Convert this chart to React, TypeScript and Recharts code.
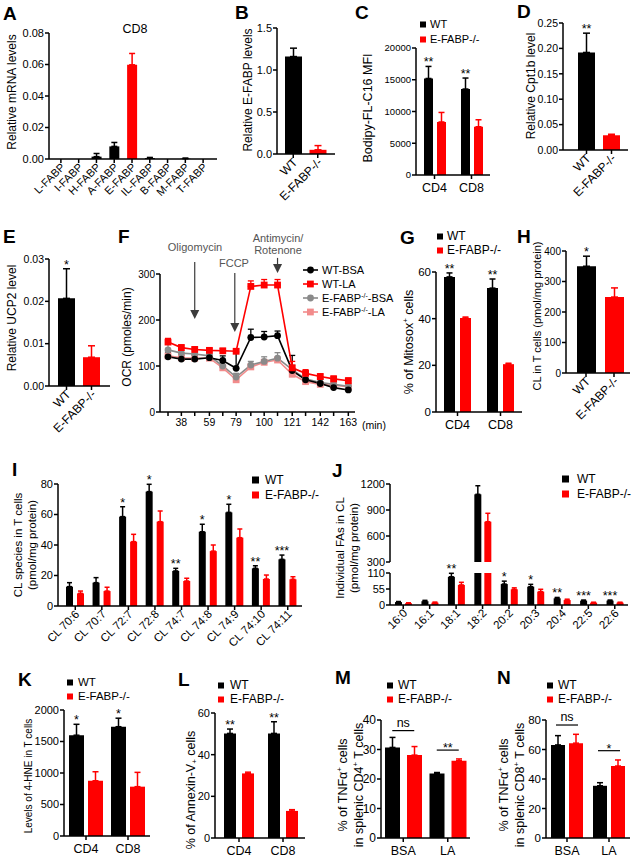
import React from 'react'
import { Bar, BarChart, Cell, ErrorBar, LabelList, Line, LineChart, ReferenceLine, XAxis, YAxis } from 'recharts'

const FONT = '"Liberation Sans", Arial, Helvetica, sans-serif'
const K = '#000000'
const R = '#ff0000'
const GRAY = '#8a8a8a'
const PINK = '#f28b8b'

const GENO = ['WT', 'E-FABP-/-']
const GENO_COLORS = [K, R]
const CD = ['CD4', 'CD8']
const TREAT = ['BSA', 'LA']

// A: FABP mRNA in CD8
const aCats = ['L-FABP', 'I-FABP', 'H-FABP', 'A-FABP', 'E-FABP', 'IL-FABP', 'B-FABP', 'M-FABP', 'T-FABP']
const aVals = [0, 0, 0.0015, 0.008, 0.0598, 0.0006, 0, 0.0002, 0]
const aErrs = [0, 0, 0.002, 0.0025, 0.0072, 0.0004, 0, 0.0004, 0]
const aColors = [K, K, K, K, R, K, K, K, K]

// B: E-FABP levels
const bVals = [1.16, 0.05]
const bErrs = [0.1, 0.05]

// C: Bodipy-FL-C16 MFI
const cWT = [15200, 13540]
const cWTErr = [1900, 1730]
const cKO = [8350, 7600]
const cKOErr = [1500, 1100]
const cStars = ['**', '**']

// D: Cpt1b
const dVals = [0.192, 0.029]
const dErrs = [0.038, 0.002]
const dStars = ['**', '']

// E: UCP2
const eVals = [0.0207, 0.0068]
const eErrs = [0.007, 0.0027]
const eStars = ['*', '']

// F: OCR time course
const fTimes = [28, 38, 48, 59, 69, 79, 90, 100, 110, 121, 131, 142, 152, 163]
const fLabeled = [38, 59, 79, 100, 121, 142, 163]
const fWtBsa = [120, 115, 115, 118, 112, 95, 162, 163, 166, 90, 70, 62, 53, 48]
const fWtBsaErr = [10, 8, 8, 8, 10, 35, 18, 12, 10, 33, 15, 10, 8, 8]
const fWtLa = [152, 140, 136, 134, 133, 132, 273, 276, 276, 96, 84, 77, 72, 68]
const fWtLaErr = [8, 6, 5, 4, 5, 5, 12, 12, 12, 14, 8, 6, 6, 6]
const fKoBsa = [135, 128, 126, 122, 100, 76, 102, 110, 117, 92, 72, 64, 60, 56]
const fKoBsaErr = [12, 10, 8, 8, 8, 8, 8, 10, 12, 10, 10, 8, 8, 8]
const fKoLa = [122, 118, 117, 117, 96, 70, 98, 108, 113, 82, 66, 60, 58, 55]
const fKoLaErr = [6, 6, 6, 6, 6, 6, 6, 6, 6, 6, 6, 6, 6, 6]
const fArrows = [
  { t: 48, from: 326, to: 202 },
  { t: 78, from: 302, to: 174 },
  { t: 110, from: 335, to: 302 },
]

// G: Mitosox
const gWT = [57.9, 53.1]
const gWTErr = [1.7, 3.9]
const gKO = [40.3, 20.5]
const gKOErr = [0.4, 0.4]
const gStars = ['**', '**']

// H: CL in T cells
const hVals = [350, 249]
const hErrs = [33, 30]
const hStars = ['*', '']

// I: CL species
const iCats = ['CL 70:6', 'CL 70:7', 'CL 72:7', 'CL 72:8', 'CL 74:7', 'CL 74:8', 'CL 74:9', 'CL 74:10', 'CL 74:11']
const iWT = [12.7, 15.3, 58.6, 75, 23, 48.7, 61.4, 24.7, 30.6]
const iWTErr = [2.6, 3.3, 6.5, 4.8, 1.7, 4.9, 5.3, 1.7, 2.8]
const iKO = [8.3, 9.8, 42.2, 55.3, 16.4, 36, 44.8, 17.7, 17.5]
const iKOErr = [1.5, 2.5, 4.8, 7, 1.8, 4, 5.7, 2.6, 1.7]
const iStars = ['', '', '*', '*', '**', '*', '*', '**', '***']

// J: individual FAs in CL (broken axis)
const jCats = ['16:0', '16:1', '18:1', '18:2', '20:2', '20:3', '20:4', '22:5', '22:6']
const jWT = [10, 13, 97, 1081, 72, 63, 23, 15, 15]
const jWTErr = [2, 3, 12, 99, 10, 8, 3, 2, 2]
const jKO = [6, 8, 69, 765, 54, 46, 17, 8, 8]
const jKOErr = [1.5, 2, 9, 97, 5, 8, 3, 1.5, 1.5]
const jStars = ['', '', '**', '*', '*', '*', '**', '***', '***']
const J_BREAK = 110

// K: 4-HNE
const kWT = [1600, 1735]
const kWTErr = [173, 135]
const kKO = [877, 783]
const kKOErr = [143, 227]
const kStars = ['*', '*']

// L: Annexin-V
const lWT = [50.2, 50.2]
const lWTErr = [2.1, 5.6]
const lKO = [31, 13]
const lKOErr = [0.6, 0.6]
const lStars = ['**', '**']

// M: TNFa CD4
const mWT = [30.7, 21.9]
const mWTErr = [3.4, 0.3]
const mKO = [28.1, 26.2]
const mKOErr = [2.9, 0.6]
const mSig = [
  { cat: 'BSA', y: 36.4, text: 'ns' },
  { cat: 'LA', y: 29.8, text: '**' },
]

// N: TNFa CD8
const nWT = [63.1, 35.4]
const nWTErr = [6.3, 2.1]
const nKO = [64.3, 48.8]
const nKOErr = [6, 4.1]
const nSig = [
  { cat: 'BSA', y: 76.6, text: 'ns' },
  { cat: 'LA', y: 59.2, text: '*' },
]

type Series = { vals: (number | null)[]; errs: (number | null)[]; color: string | string[]; stars?: string[] }

type PanelProps = {
  ax: number
  end: number
  top: number
  bot: number
  xh?: number
  yw?: number
  mt?: number
  cats: string[]
  series: Series[]
  domain: [number, number]
  ticks: number[]
  fmt?: (v: number) => string
  fs: number
  xfs?: number
  rotate?: boolean
  pad?: { left: number; right: number }
  barSize: number
  barGap?: number
  cap?: number
  hideX?: boolean
  overflow?: boolean
  children?: React.ReactNode
}

const axisStyle = { stroke: K, strokeWidth: 1.5 }

const rotTick = (fs: number) => (t: any) => (
  <text
    x={t.x + 2}
    y={t.y}
    dy="0.35em"
    textAnchor="end"
    fontSize={fs}
    fill={K}
    transform={`rotate(-45 ${t.x + 2} ${t.y})`}
  >
    {t.payload.value}
  </text>
)

// asterisks sit just above the error bar of the bar
const starLabel = (s: Series, base: number, fs = 12.5) => (props: any) => {
  const i = props.index
  const txt = s.stars?.[i]
  const v = s.vals[i]
  if (!txt || v == null) return null
  const vb = props.viewBox ?? props
  const h = Math.abs(vb.height)
  const yTop = Math.min(vb.y, vb.y + vb.height)
  const ppu = h / (v - base)
  const e = s.errs[i] ?? 0
  return (
    <text key={`st${i}`} x={vb.x + vb.width / 2} y={yTop - e * ppu} textAnchor="middle" fontSize={fs} fill={K}>
      {txt}
    </text>
  )
}

const sigShape = (text: string, half = 11, fs = 12.5) => (p: any) => {
  const star = text.includes('*')
  return (
    <g>
      <line x1={p.x1 - half} x2={p.x1 + half} y1={p.y1} y2={p.y1} stroke={K} strokeWidth={1.2} />
      <text x={p.x1} y={star ? p.y1 + 2 : p.y1 - 4} textAnchor="middle" fontSize={fs} fill={K}>
        {text}
      </text>
    </g>
  )
}

const arrowShape = (p: any) => {
  const x = p.x1
  const ya = Math.min(p.y1, p.y2)
  const yb = Math.max(p.y1, p.y2)
  return (
    <g>
      <line x1={x} x2={x} y1={ya} y2={yb - 7} stroke="#3c3c3c" strokeWidth={1.2} />
      <polygon points={`${x - 4.5},${yb - 9} ${x + 4.5},${yb - 9} ${x},${yb}`} fill="#3c3c3c" />
    </g>
  )
}

function BarPanel(p: PanelProps) {
  const yw = p.yw ?? 40
  const mt = p.mt ?? 14
  const mb = p.hideX ? 7 : 0
  const xh = p.hideX ? 0 : p.xh ?? 22
  const xfs = p.xfs ?? 12.5
  const cap = p.cap ?? 3
  const left = p.ax - yw
  const top = p.top - mt
  const base = p.domain[0] > 0 ? p.domain[0] : 0
  const cols = p.series.map((s) => p.cats.map((_, i) => (Array.isArray(s.color) ? s.color[i] : s.color)))
  const uniq = cols.map((c) => Array.from(new Set(c)))
  const data = p.cats.map((c, i) => {
    const row: Record<string, unknown> = { c }
    p.series.forEach((s, k) => {
      row[`s${k}`] = s.vals[i]
      uniq[k].forEach((col, u) => {
        const e = s.errs[i]
        row[`e${k}_${u}`] = col === cols[k][i] && e ? [0, e] : null
      })
    })
    return row
  })
  return (
    <div style={{ position: 'absolute', left, top }}>
      <BarChart
        width={p.end - left + 3}
        height={p.bot - top + xh + mb}
        data={data}
        margin={{ top: mt, right: 3, left: 0, bottom: mb }}
        barSize={p.barSize}
        barGap={p.barGap ?? 4}
      >
        <XAxis
          dataKey="c"
          hide={p.hideX}
          height={xh || 1}
          interval={0}
          padding={p.pad ?? { left: 0, right: 0 }}
          axisLine={axisStyle}
          tickLine={axisStyle}
          tickSize={4}
          tickMargin={p.rotate ? 2 : 4}
          tick={p.rotate ? rotTick(xfs) : { fontSize: xfs, fill: K }}
        />
        <YAxis
          width={yw}
          type="number"
          domain={p.domain}
          ticks={p.ticks}
          interval={0}
          allowDataOverflow={!!p.overflow}
          tickFormatter={p.fmt ?? ((v: number) => String(v))}
          axisLine={axisStyle}
          tickLine={axisStyle}
          tickSize={4}
          tickMargin={1}
          tick={{ fontSize: p.fs, fill: K }}
        />
        {p.series.map((s, k) => (
          <Bar key={k} dataKey={`s${k}`} fill={cols[k][0]} isAnimationActive={false}>
            {cols[k].map((col, i) => (
              <Cell key={i} fill={col} />
            ))}
            {uniq[k].map((col, u) => (
              <ErrorBar key={u} dataKey={`e${k}_${u}`} direction="y" width={cap} strokeWidth={1.5} stroke={col} />
            ))}
            {s.stars ? <LabelList dataKey={`s${k}`} content={starLabel(s, base)} /> : null}
          </Bar>
        ))}
        {p.children}
      </BarChart>
    </div>
  )
}

const ciDot = (color: string) => (p: any) => <circle key={`d${p.index}`} cx={p.cx} cy={p.cy} r={3.4} fill={color} />
const sqDot = (color: string) => (p: any) => (
  <rect key={`d${p.index}`} x={p.cx - 3.4} y={p.cy - 3.4} width={6.8} height={6.8} fill={color} />
)

function OcrPanel() {
  const ax = 160
  const end = 355
  const top = 274
  const bot = 412
  const mt = 18
  const yw = 40
  const xh = 22
  const left = ax - yw
  const t0 = top - mt
  const data = fTimes.map((t, i) => ({
    t,
    wb: fWtBsa[i],
    wbE: [0, fWtBsaErr[i]],
    wl: fWtLa[i],
    wlE: [0, fWtLaErr[i]],
    kb: fKoBsa[i],
    kbE: [0, fKoBsaErr[i]],
    kl: fKoLa[i],
    klE: [0, fKoLaErr[i]],
  }))
  const lines = [
    { key: 'kl', color: PINK, sq: true },
    { key: 'kb', color: GRAY, sq: false },
    { key: 'wb', color: K, sq: false },
    { key: 'wl', color: R, sq: true },
  ]
  return (
    <div style={{ position: 'absolute', left, top: t0 }}>
      <LineChart width={end - left + 3} height={bot - t0 + xh} data={data} margin={{ top: mt, right: 3, left: 0, bottom: 0 }}>
        <XAxis
          type="number"
          dataKey="t"
          domain={[22, 168]}
          ticks={fTimes}
          interval={0}
          tickFormatter={(v: number) => (fLabeled.includes(v) ? String(v) : '')}
          height={xh}
          axisLine={axisStyle}
          tickLine={axisStyle}
          tickSize={4}
          tickMargin={3}
          tick={{ fontSize: 10.5, fill: K }}
        />
        <YAxis
          width={yw}
          type="number"
          domain={[0, 300]}
          ticks={[0, 100, 200, 300]}
          interval={0}
          axisLine={axisStyle}
          tickLine={axisStyle}
          tickSize={4}
          tickMargin={1}
          tick={{ fontSize: 10, fill: K }}
        />
        {fArrows.map((a, i) => (
          <ReferenceLine
            key={i}
            segment={[
              { x: a.t, y: a.from },
              { x: a.t, y: a.to },
            ]}
            ifOverflow="visible"
            shape={arrowShape}
          />
        ))}
        {lines.map((l) => (
          <Line
            key={l.key}
            dataKey={l.key}
            stroke={l.color}
            strokeWidth={1.6}
            isAnimationActive={false}
            dot={l.sq ? sqDot(l.color) : ciDot(l.color)}
            activeDot={false}
          >
            <ErrorBar dataKey={`${l.key}E`} direction="y" width={3} strokeWidth={1.3} stroke={l.color} />
          </Line>
        ))}
      </LineChart>
    </div>
  )
}

function VText({ x, y, fs, children }: { x: number; y: number; fs: number; children: React.ReactNode }) {
  return (
    <text transform={`translate(${x} ${y}) rotate(-90)`} textAnchor="middle" dominantBaseline="central" fontSize={fs} fill={K}>
      {children}
    </text>
  )
}

function GenoLegend({ x, y1, y2, tx, fs = 12, sq = 6 }: { x: number; y1: number; y2: number; tx: number; fs?: number; sq?: number }) {
  return (
    <g>
      {[y1, y2].map((y, i) => (
        <g key={i}>
          <rect x={x} y={y - sq - 0.5} width={sq} height={sq} fill={GENO_COLORS[i]} />
          <text x={tx} y={y} fontSize={fs} fill={K}>
            {GENO[i]}
          </text>
        </g>
      ))}
    </g>
  )
}

const letters: [string, number, number][] = [
  ['A', 3, 20],
  ['B', 235, 19],
  ['C', 355, 19],
  ['D', 517, 18],
  ['E', 3, 243],
  ['F', 118, 243],
  ['G', 400, 244],
  ['H', 517, 243],
  ['I', 12, 476],
  ['J', 332, 477],
  ['K', 18, 686],
  ['L', 178, 686],
  ['M', 335, 684],
  ['N', 497, 684],
]

const fLegend = [
  { label: 'WT-BSA', color: K, sq: false, ko: false },
  { label: '-LA', color: R, sq: true, ko: false },
  { label: '-BSA', color: GRAY, sq: false, ko: true },
  { label: '-LA', color: PINK, sq: true, ko: true },
]

export default function App() {
  const f2 = (v: number) => v.toFixed(2)
  const f1 = (v: number) => v.toFixed(1)
  return (
    <div
      style={{ position: 'absolute', left: 0, top: 0, width: 633, height: 860, background: '#fff', fontFamily: FONT, overflow: 'hidden' }}
    >
      {/* A */}
      <BarPanel
        ax={49}
        end={217}
        top={33}
        bot={159}
        xh={50}
        cats={aCats}
        series={[{ vals: aVals, errs: aErrs, color: aColors }]}
        domain={[0, 0.08]}
        ticks={[0, 0.02, 0.04, 0.06, 0.08]}
        fmt={f2}
        fs={11}
        xfs={11}
        rotate
        pad={{ left: 3, right: 5 }}
        barSize={10}
      />
      {/* B */}
      <BarPanel
        ax={277}
        end={335}
        top={28}
        bot={154}
        xh={55}
        cats={GENO}
        series={[{ vals: bVals, errs: bErrs, color: GENO_COLORS }]}
        domain={[0, 1.5]}
        ticks={[0, 0.5, 1, 1.5]}
        fmt={f1}
        fs={11}
        xfs={12}
        rotate
        pad={{ left: 4, right: 5 }}
        barSize={17}
        cap={3.5}
      />
      {/* C */}
      <BarPanel
        ax={416}
        end={490}
        top={48}
        bot={175}
        cats={CD}
        series={[
          { vals: cWT, errs: cWTErr, color: K, stars: cStars },
          { vals: cKO, errs: cKOErr, color: R },
        ]}
        domain={[0, 20000]}
        ticks={[0, 5000, 10000, 15000, 20000]}
        fs={9.5}
        barSize={9}
        barGap={4}
      />
      {/* D */}
      <BarPanel
        ax={563}
        end={628}
        top={23}
        bot={150}
        xh={55}
        cats={GENO}
        series={[{ vals: dVals, errs: dErrs, color: GENO_COLORS, stars: dStars }]}
        domain={[0, 0.25]}
        ticks={[0, 0.05, 0.1, 0.15, 0.2, 0.25]}
        fmt={f2}
        fs={10.5}
        xfs={12}
        rotate
        pad={{ left: 11, right: 4 }}
        barSize={17}
        cap={3.5}
      />
      {/* E */}
      <BarPanel
        ax={49}
        end={110}
        top={259}
        bot={386}
        xh={55}
        cats={GENO}
        series={[{ vals: eVals, errs: eErrs, color: GENO_COLORS, stars: eStars }]}
        domain={[0, 0.03]}
        ticks={[0, 0.01, 0.02, 0.03]}
        fmt={f2}
        fs={10.5}
        xfs={12}
        rotate
        pad={{ left: 5, right: 6 }}
        barSize={17}
        cap={3.5}
      />
      {/* F */}
      <OcrPanel />
      {/* G */}
      <BarPanel
        ax={436}
        end={522}
        top={272}
        bot={412}
        cats={CD}
        series={[
          { vals: gWT, errs: gWTErr, color: K, stars: gStars },
          { vals: gKO, errs: gKOErr, color: R },
        ]}
        domain={[0, 60]}
        ticks={[0, 20, 40, 60]}
        fs={11.5}
        barSize={11}
        barGap={5}
      />
      {/* H */}
      <BarPanel
        ax={566}
        end={630}
        top={251}
        bot={373}
        xh={55}
        cats={GENO}
        series={[{ vals: hVals, errs: hErrs, color: GENO_COLORS, stars: hStars }]}
        domain={[0, 400]}
        ticks={[0, 100, 200, 300, 400]}
        fs={10}
        xfs={12}
        rotate
        pad={{ left: 6, right: 2 }}
        barSize={19}
        cap={3.5}
      />
      {/* I */}
      <BarPanel
        ax={58}
        end={302}
        top={484}
        bot={606}
        xh={48}
        cats={iCats}
        series={[
          { vals: iWT, errs: iWTErr, color: K, stars: iStars },
          { vals: iKO, errs: iKOErr, color: R },
        ]}
        domain={[0, 80]}
        ticks={[0, 20, 40, 60, 80]}
        fs={11}
        xfs={11.5}
        rotate
        pad={{ left: 4, right: 1 }}
        barSize={7}
        barGap={4}
        cap={2.5}
      />
      {/* J top segment */}
      <BarPanel
        ax={390}
        end={628}
        top={484}
        bot={562}
        hideX
        cats={jCats}
        series={[
          {
            vals: jWT.map((v) => (v > J_BREAK ? v : null)),
            errs: jWTErr,
            color: K,
            stars: jStars.map((s, i) => (jWT[i] > J_BREAK ? s : '')),
          },
          { vals: jKO.map((v) => (v > J_BREAK ? v : null)), errs: jKOErr, color: R },
        ]}
        domain={[300, 1200]}
        ticks={[300, 600, 900, 1200]}
        fs={11}
        barSize={7}
        barGap={3}
        cap={2.5}
      />
      {/* J bottom segment */}
      <BarPanel
        ax={390}
        end={628}
        top={573}
        bot={605}
        mt={10}
        xh={48}
        cats={jCats}
        series={[
          {
            vals: jWT,
            errs: jWTErr.map((e, i) => (jWT[i] > J_BREAK ? null : e)),
            color: K,
            stars: jStars.map((s, i) => (jWT[i] > J_BREAK ? '' : s)),
          },
          { vals: jKO, errs: jKOErr.map((e, i) => (jKO[i] > J_BREAK ? null : e)), color: R },
        ]}
        domain={[0, J_BREAK]}
        ticks={[0, 55, 110]}
        overflow
        fs={11}
        xfs={11.5}
        rotate
        barSize={7}
        barGap={3}
        cap={2.5}
      />
      {/* K */}
      <BarPanel
        ax={64}
        end={150}
        top={710}
        bot={836}
        cats={CD}
        series={[
          { vals: kWT, errs: kWTErr, color: K, stars: kStars },
          { vals: kKO, errs: kKOErr, color: R },
        ]}
        domain={[0, 2000]}
        ticks={[0, 500, 1000, 1500, 2000]}
        fs={11}
        pad={{ left: 1, right: 1 }}
        barSize={15}
        barGap={4}
      />
      {/* L */}
      <BarPanel
        ax={215}
        end={305}
        top={713}
        bot={838}
        cats={CD}
        series={[
          { vals: lWT, errs: lWTErr, color: K, stars: lStars },
          { vals: lKO, errs: lKOErr, color: R },
        ]}
        domain={[0, 60]}
        ticks={[0, 20, 40, 60]}
        fs={11}
        pad={{ left: 2, right: 0 }}
        barSize={12}
        barGap={6}
      />
      {/* M */}
      <BarPanel
        ax={381}
        end={470}
        top={720}
        bot={838}
        cats={TREAT}
        series={[
          { vals: mWT, errs: mWTErr, color: K },
          { vals: mKO, errs: mKOErr, color: R },
        ]}
        domain={[0, 40]}
        ticks={[0, 10, 20, 30, 40]}
        fs={12}
        barSize={15}
        barGap={7}
      >
        {mSig.map((s) => (
          <ReferenceLine
            key={s.cat}
            segment={[
              { x: s.cat, y: s.y },
              { x: s.cat, y: s.y },
            ]}
            ifOverflow="visible"
            shape={sigShape(s.text)}
          />
        ))}
      </BarPanel>
      {/* N */}
      <BarPanel
        ax={546}
        end={630}
        top={720}
        bot={838}
        cats={TREAT}
        series={[
          { vals: nWT, errs: nWTErr, color: K },
          { vals: nKO, errs: nKOErr, color: R },
        ]}
        domain={[0, 80]}
        ticks={[0, 20, 40, 60, 80]}
        fs={11.5}
        barSize={14}
        barGap={4}
      >
        {nSig.map((s) => (
          <ReferenceLine
            key={s.cat}
            segment={[
              { x: s.cat, y: s.y },
              { x: s.cat, y: s.y },
            ]}
            ifOverflow="visible"
            shape={sigShape(s.text)}
          />
        ))}
      </BarPanel>

      <svg
        width={633}
        height={860}
        style={{ position: 'absolute', left: 0, top: 0, pointerEvents: 'none' }}
        fontFamily={FONT}
      >
        {letters.map(([t, x, y]) => (
          <text key={t} x={x} y={y} fontSize={19} fontWeight="bold" fill={K}>
            {t}
          </text>
        ))}

        <text x={135} y={33} fontSize={12.5} textAnchor="middle" fill={K}>
          CD8
        </text>

        <VText x={12} y={92} fs={12}>Relative  mRNA levels</VText>
        <VText x={248} y={90} fs={12}>Relative E-FABP levels</VText>
        <VText x={368} y={108} fs={12.5}>Bodipy-FL-C16 MFI</VText>
        <VText x={531} y={86} fs={12}>Relative Cpt1b level</VText>
        <VText x={12} y={318} fs={12}>Relative UCP2 level</VText>
        <VText x={127} y={337} fs={12}>OCR (pmoles/min)</VText>
        <VText x={409} y={342} fs={12.5}>
          % of Mitosox<tspan dy={-4} fontSize={8}>+</tspan>
          <tspan dy={4}> cells</tspan>
        </VText>
        <VText x={537} y={316} fs={11}>CL in T cells (pmol/mg protein)</VText>
        <VText x={18} y={545} fs={11.5}>CL species in T cells</VText>
        <VText x={32} y={545} fs={11.5}>(pmol/mg protein)</VText>
        <VText x={340} y={548} fs={11.5}>Individual  FAs in CL</VText>
        <VText x={354} y={548} fs={11.5}>(pmol/mg protein)</VText>
        <VText x={28} y={776} fs={10}>Levels of 4-HNE in T cells</VText>
        <VText x={191} y={790} fs={12.5}>
          % of Annexin-V<tspan dy={3} fontSize={8}>+</tspan>
          <tspan dy={-3}> cells</tspan>
        </VText>
        <VText x={343} y={785} fs={12.5}>
          % of TNFα<tspan dy={-4} fontSize={8}>+</tspan>
          <tspan dy={4}> cells</tspan>
        </VText>
        <VText x={359} y={785} fs={12.5}>
          in splenic  CD4<tspan dy={-4} fontSize={8}>+</tspan>
          <tspan dy={4}> T cells</tspan>
        </VText>
        <VText x={504} y={785} fs={12.5}>
          % of TNFα<tspan dy={-4} fontSize={8}>+</tspan>
          <tspan dy={4}> cells</tspan>
        </VText>
        <VText x={520} y={785} fs={12.5}>
          in splenic  CD8<tspan dy={-4} fontSize={8}>+</tspan>
          <tspan dy={4}> T cells</tspan>
        </VText>

        <GenoLegend x={420} y1={28} y2={43} tx={430} fs={11} />
        <GenoLegend x={437} y1={240} y2={254} tx={447} />
        <GenoLegend x={252} y1={484} y2={499} tx={265} sq={7} />
        <GenoLegend x={562} y1={483} y2={498} tx={577} sq={7} />
        <GenoLegend x={67} y1={686} y2={700} tx={78} fs={11.5} />
        <GenoLegend x={218} y1={689} y2={703} tx={230} />
        <GenoLegend x={387} y1={689} y2={703} tx={398} />
        <GenoLegend x={547} y1={689} y2={703} tx={558} />

        {/* F annotations and legend */}
        <text x={195} y={251} fontSize={11} textAnchor="middle" fill="#555">
          Oligomycin
        </text>
        <text x={234} y={267} fontSize={11} textAnchor="middle" fill="#555">
          FCCP
        </text>
        <text x={278} y={242} fontSize={11} textAnchor="middle" fill="#555">
          Antimycin/
        </text>
        <text x={278} y={254} fontSize={11} textAnchor="middle" fill="#555">
          Rotenone
        </text>
        <text x={362} y={429} fontSize={10.5} fill={K}>
          (min)
        </text>
        {fLegend.map((l, i) => {
          const y = 270 + i * 14
          return (
            <g key={i}>
              <line x1={303} x2={318} y1={y} y2={y} stroke={l.color} strokeWidth={1.6} />
              {l.sq ? (
                <rect x={307} y={y - 3.4} width={6.8} height={6.8} fill={l.color} />
              ) : (
                <circle cx={310.5} cy={y} r={3.4} fill={l.color} />
              )}
              <text x={322} y={y + 4} fontSize={11} fill={K}>
                {l.ko ? (
                  <>
                    E-FABP<tspan dy={-4} fontSize={7}>-/-</tspan>
                    <tspan dy={4}>{l.label}</tspan>
                  </>
                ) : i === 0 ? (
                  l.label
                ) : (
                  'WT' + l.label
                )}
              </text>
            </g>
          )
        })}
      </svg>
    </div>
  )
}
